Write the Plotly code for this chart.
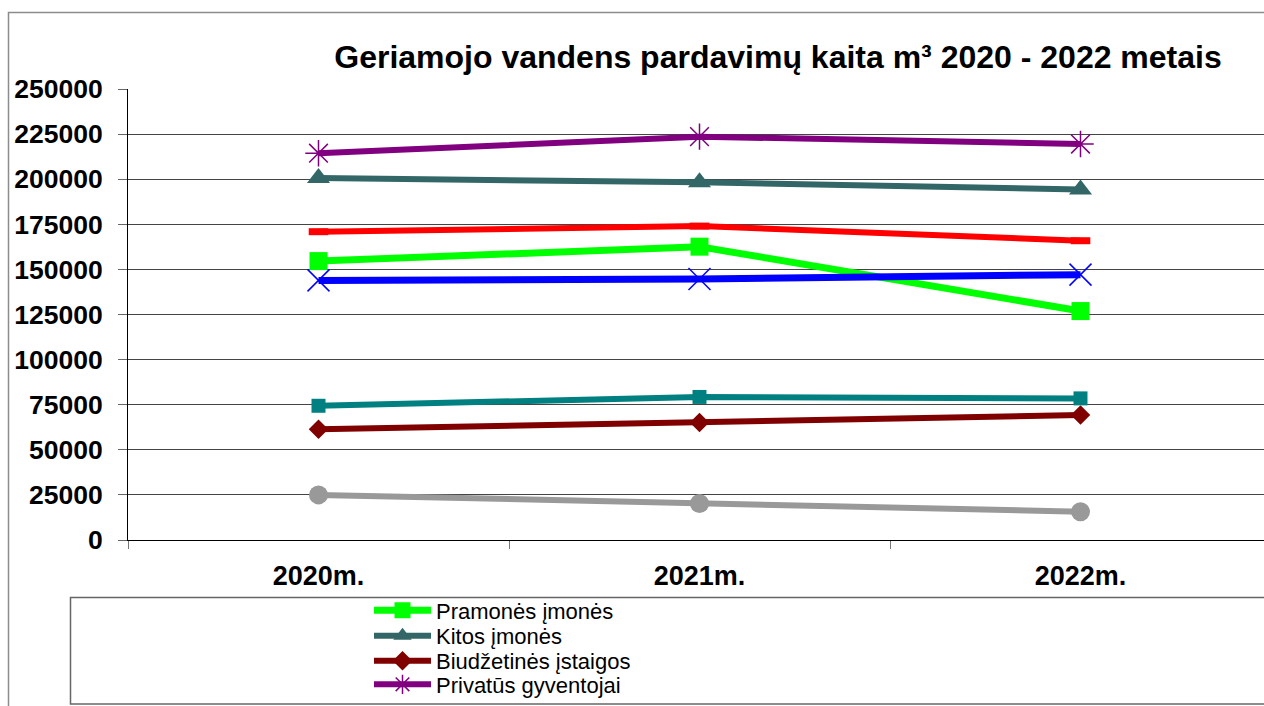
import plotly.graph_objects as go

years = ["2020m.", "2021m.", "2022m."]

pramones_imones = [154600, 162600, 126900]
kitos_imones = [200600, 198300, 194300]
biudzetines_istaigos = [61400, 65100, 69300]
privatus_gyventojai = [214400, 223600, 219500]
serija_raudona = [170900, 174000, 165900]
serija_melyna = [143900, 144700, 147100]
serija_zalsva = [74400, 79300, 78500]
serija_pilka = [25000, 20200, 15700]

y_ticks = [0, 25000, 50000, 75000, 100000, 125000, 150000, 175000, 200000, 225000, 250000]
title_text = "<b>Geriamojo vandens pardavimų kaita m³ 2020 - 2022 metais</b>"

W, H = 1264, 706
L, R, T, B = 128, 0, 89, 166
PW = W - L - R
PH = H - T - B

def px_x(p):
    return (p - L) / PW

def px_y(p):
    return (H - B - p) / PH

fig = go.Figure()

def add(name, vals, color, symbol, size, lw=6, mlw=0, legend=None, open_marker=False):
    marker = dict(symbol=symbol, size=size, color=color)
    if open_marker:
        marker["line"] = dict(color=color, width=mlw)
    kw = dict(showlegend=legend is not None)
    if legend is not None:
        kw["legend"] = legend
    fig.add_trace(go.Scatter(
        x=years, y=vals, name=name, mode="lines+markers",
        line=dict(color=color, width=lw),
        marker=marker, **kw,
    ))

add("Pramonės įmonės", pramones_imones, "#00FF00", "square", 18, lw=7, legend="legend")
add("Kitos įmonės", kitos_imones, "#336666", "triangle-up", 20, legend="legend2")
add("Biudžetinės įstaigos", biudzetines_istaigos, "#800000", "diamond", 15, legend="legend3")
add("Privatūs gyventojai", privatus_gyventojai, "#800080", "asterisk-open", 22, mlw=1.5,
    legend="legend4", open_marker=True)
add("Serija 5", serija_raudona, "#FF0000", "line-ew-open", 14, mlw=7, open_marker=True)
add("Serija 6", serija_melyna, "#0000FF", "x-thin-open", 22, lw=7, mlw=1.5, open_marker=True)
add("Serija 7", serija_zalsva, "#008080", "square", 14)
add("Serija 8", serija_pilka, "#999999", "circle", 19)

shapes = [
    # outer chart border
    dict(type="rect", xref="paper", yref="paper",
         x0=px_x(8.5), x1=px_x(1300), y0=px_y(12.5), y1=px_y(760),
         line=dict(color="#8c8c8c", width=1.5), layer="below"),
    # legend box
    dict(type="rect", xref="paper", yref="paper",
         x0=px_x(70.5), x1=px_x(1300), y0=px_y(597.5), y1=px_y(704),
         line=dict(color="#666666", width=1.5), layer="below"),
]

def legend_at(center_y):
    return dict(x=px_x(369), xanchor="left", xref="paper",
                y=px_y(center_y), yanchor="middle", yref="paper",
                bgcolor="rgba(0,0,0,0)", borderwidth=0,
                font=dict(size=22, color="black"), itemwidth=57)

fig.update_layout(
    width=W, height=H,
    margin=dict(l=L, r=R, t=T, b=B, pad=0),
    paper_bgcolor="white", plot_bgcolor="white",
    font=dict(family="Arial, Liberation Sans, sans-serif", color="black"),
    title=dict(text=title_text, x=778 / W, xanchor="center", xref="container",
               y=1 - 57 / H, yanchor="middle", yref="container",
               font=dict(size=32, color="black")),
    shapes=shapes,
    showlegend=True,
    legend=legend_at(610.5),
    legend2=legend_at(636),
    legend3=legend_at(661),
    legend4=legend_at(684.5),
    xaxis=dict(type="category", range=[-0.5, (W - L) / 381 - 0.5],
               showgrid=False, showline=True, linecolor="black", linewidth=1,
               ticks="outside", ticklen=8, tickcolor="#777777", tickson="boundaries",
               tickfont=dict(size=27, weight="bold"), ticklabelstandoff=12),
    yaxis=dict(range=[0, 250000], tickvals=y_ticks, ticktext=[str(v) for v in y_ticks],
               showgrid=True, gridcolor="#444444", gridwidth=1,
               showline=True, linecolor="black", linewidth=1,
               ticks="outside", ticklen=9, tickcolor="#666666",
               tickfont=dict(size=26.5, weight="bold"), ticklabelstandoff=10,
               zeroline=False),
)

fig.write_html("out.html", config={"displayModeBar": False},
               post_script="document.body.style.margin='0';document.body.style.overflow='hidden';")
